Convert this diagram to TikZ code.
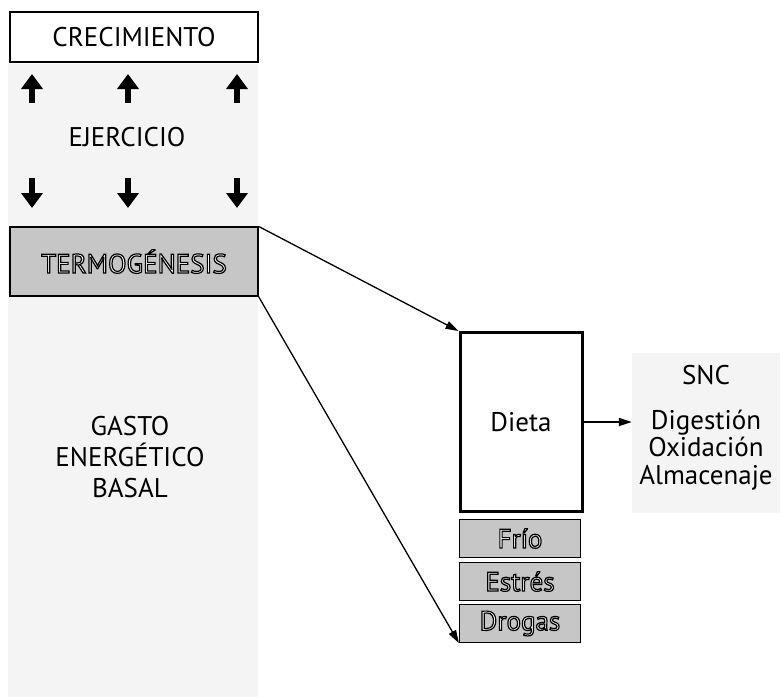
\documentclass[tikz,border=0pt]{standalone}
\usepackage{fontspec}
\setmainfont{PT Sans}
\usetikzlibrary{arrows.meta}
\tikzstyle{caja}=[draw, line width=2pt, minimum width=248pt, minimum height=50pt, inner sep=0, font=\fontsize{27}{31}\selectfont]
\tikzstyle{gris}=[draw, line width=1.2pt, fill=gray!45, inner sep=0, font=\fontsize{27}{31}\selectfont]
\tikzstyle{punteado}=[fill=gray!9, draw=none, inner sep=0]
\tikzstyle{bloque}=[line width=6pt, -{Triangle[width=21pt,length=15pt]}]
\tikzstyle{flecha}=[line width=1.3pt, -{Triangle[width=8pt,length=13pt]}]
\newcommand{\hueco}[1]{\textcolor{white}{\special{pdf:code 2 Tr 1.2 w 0 G}#1\special{pdf:code 0 Tr}}}

\begin{document}
\begin{tikzpicture}[x=1pt, y=-1pt]
\useasboundingbox (0,0) rectangle (781,697);
% columna de la izquierda
\node at (133,380.5) [punteado, minimum width=250pt, minimum height=633pt](columna){};
\node at (134,37) [caja](crec){CRECIMIENTO};
\node at (127,137) [font=\fontsize{27}{31}\selectfont](ejer){EJERCICIO};
\foreach \x/\n in {32/a,128/b,237/c}{
  \coordinate (up\n) at (\x,103);
  \coordinate (upt\n) at (\x,74);
  \coordinate (dn\n) at (\x,178);
  \coordinate (dnt\n) at (\x,208);
  \draw[bloque] (up\n)--(upt\n);
  \draw[bloque] (dn\n)--(dnt\n);
}
\node at (134,261.5) [gris, minimum width=248pt, minimum height=69pt](termo){\hueco{TERMOGÉNESIS}};
\node at (130,457) [align=center, font=\fontsize{27}{31}\selectfont](gasto){GASTO\\ENERGÉTICO\\BASAL};
% dieta y factores
\node at (521,422) [draw, line width=3pt, minimum width=122pt, minimum height=179pt, font=\fontsize{27}{31}\selectfont](dieta){Dieta};
\node at (520,538.5) [gris, minimum width=121pt, minimum height=38pt](frio){\hueco{Frío}};
\node at (520,581.5) [gris, minimum width=121pt, minimum height=38pt](estres){\hueco{Estrés}};
\node at (520,623.5) [gris, minimum width=121pt, minimum height=38pt](drogas){\hueco{Drogas}};
\node at (706,433) [punteado, minimum width=148pt, minimum height=160pt](destino){};
\node at (706,375) [font=\fontsize{27}{31}\selectfont](snc){SNC};
\node at (706,450) [align=center, font=\fontsize{27}{27.5}\selectfont](procesos){Digestión\\Oxidación\\Almacenaje};
\draw[flecha] (termo.north east)--(dieta.north west);
\draw[flecha] (termo.south east)--(drogas.south west);
\draw[flecha, line width=2pt] (dieta.east)--(dieta.east -| destino.west);
\end{tikzpicture}
\end{document}
